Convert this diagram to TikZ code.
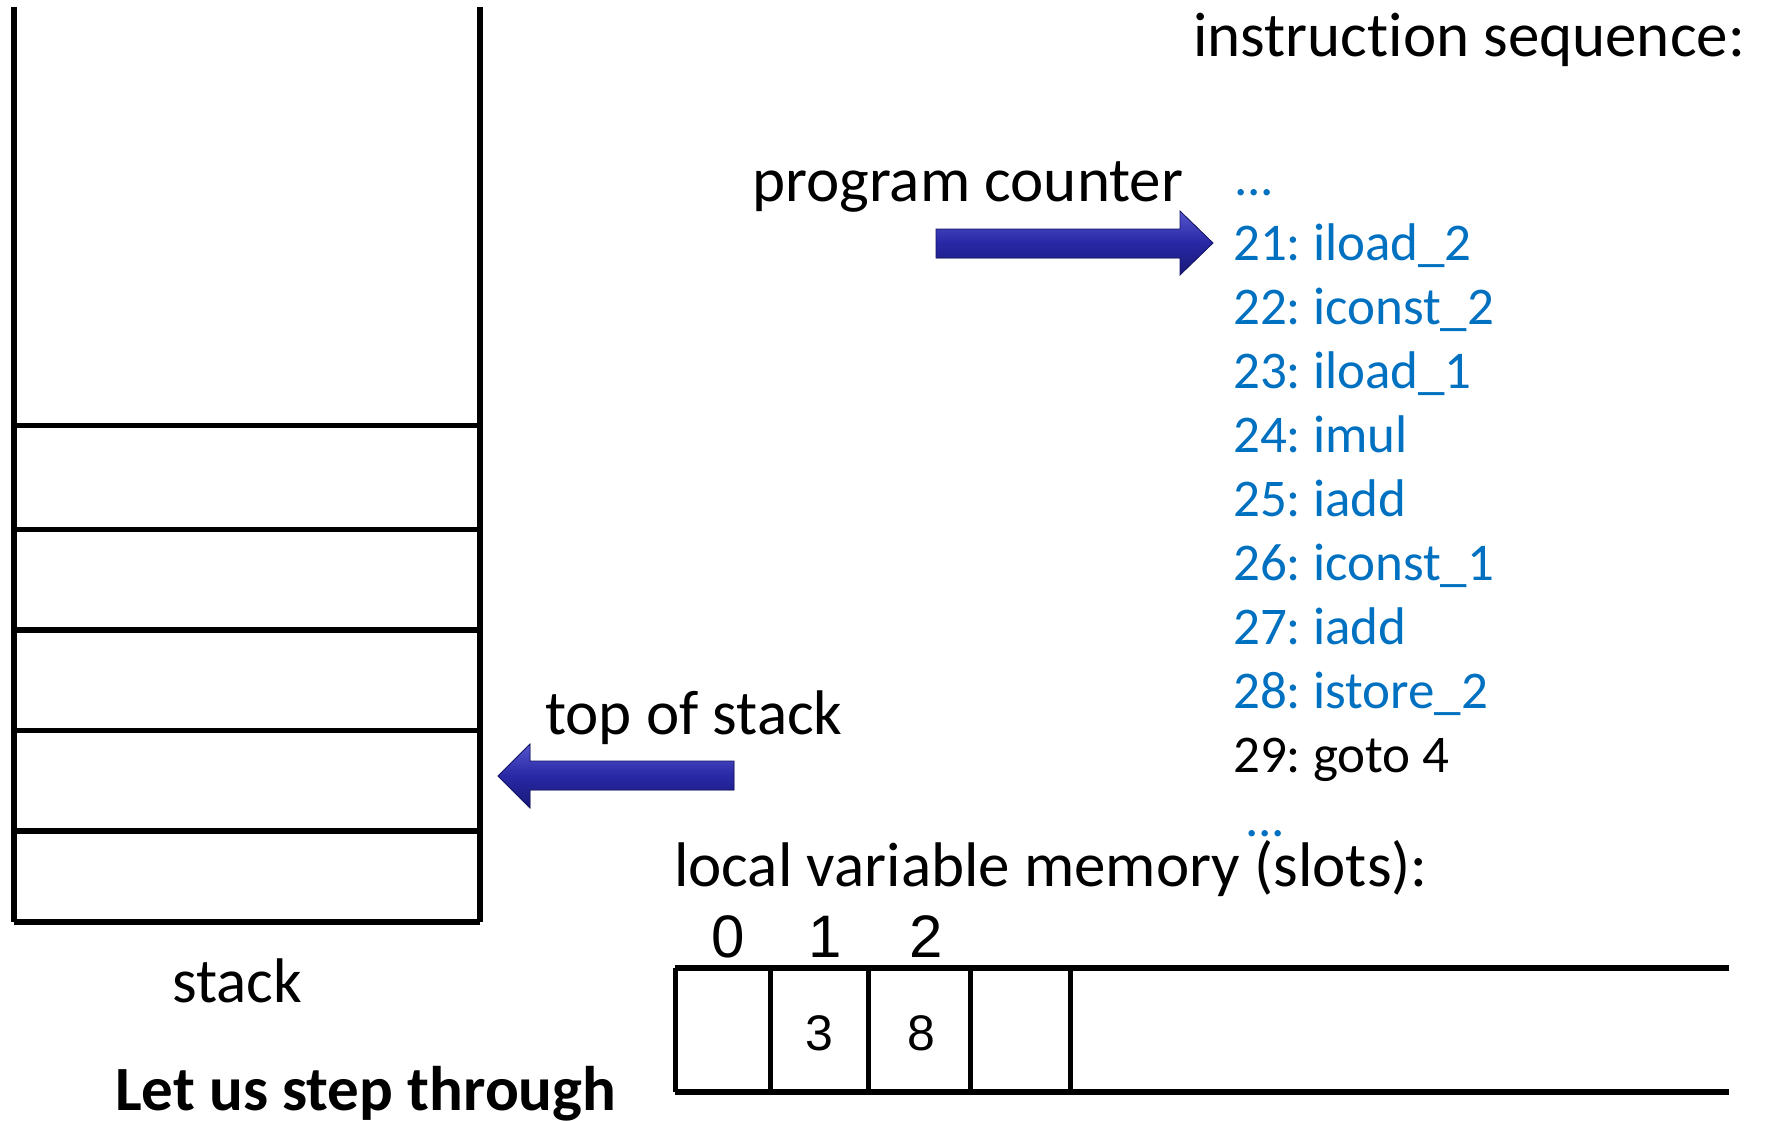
\documentclass[tikz,border=0pt]{standalone}
\usepackage{fontspec}
\setmainfont{Carlito}[Ligatures=NoCommon]
\newfontfamily\arialf{Liberation Sans}
\definecolor{instblue}{RGB}{0,112,192}
\definecolor{arrtop}{RGB}{85,85,205}
\definecolor{arrmid}{RGB}{40,40,165}
\definecolor{arrbot}{RGB}{25,25,120}
\definecolor{arredge}{RGB}{20,20,100}
\tikzset{
  lbl/.style={anchor=base west, inner sep=0pt, font=\fontsize{63}{75}\selectfont},
  instr/.style={anchor=base west, inner sep=0pt, font=\fontsize{53}{64}\selectfont, text=instblue},
  slotnum/.style={anchor=base, inner sep=0pt, font=\arialf\fontsize{60}{70}\selectfont},
  slotval/.style={anchor=base, inner sep=0pt, font=\arialf\fontsize{50}{60}\selectfont},
  wall/.style={line width=6pt},
  shelf/.style={line width=5.5pt},
  memedge/.style={line width=6pt},
  memdiv/.style={line width=5pt},
  blockarrow/.style={top color=arrtop, bottom color=arrbot, middle color=arrmid, draw=arredge, line width=0.8pt}
}
\frenchspacing
\begin{document}
\begin{tikzpicture}[x=1pt,y=-1pt]
\useasboundingbox (0,0) rectangle (1770,1121);
% stack
\draw[wall] (14,7) -- (14,922);
\draw[wall] (479.5,7) -- (479.5,922);
\foreach \yy in {425.7,529.4,629.9,730.3,830.8,922}
  \draw[shelf] (14,\yy) -- (479.5,\yy);
\node[lbl] (stacklbl) at (172,1002) {stack};
\node[lbl, font=\bfseries\fontsize{63}{75}\selectfont] (step) at (115,1110) {Let us step through};
% instruction sequence
\node[lbl] (isq) at (1193,56.5) {instruction sequence:};
\node[lbl] (pc) at (752,201) {program counter};
\node[instr] (i0) at (1234,196) {...};
\node[instr] (i21) at (1233,260) {21: iload\_2};
\node[instr] (i22) at (1233,324) {22: iconst\_2};
\node[instr] (i23) at (1233,388) {23: iload\_1};
\node[instr] (i24) at (1233,452) {24: imul};
\node[instr] (i25) at (1233,516) {25: iadd};
\node[instr] (i26) at (1233,580) {26: iconst\_1};
\node[instr] (i27) at (1233,644) {27: iadd};
\node[instr] (i28) at (1233,708) {28: istore\_2};
\node[instr, text=black] (i29) at (1233,772) {29: goto 4};
\node[instr] (i9) at (1245,836) {...};
% arrows
\coordinate (pcA) at (936,243);
\coordinate (pcB) at (1213,243);
\fill[blockarrow] (936,229) -- (1180,229) -- (1180,211) -- (pcB) -- (1180,275) -- (1180,258) -- (936,258) -- cycle;
\node[lbl] (tos) at (545,734) {top of stack};
\coordinate (tosA) at (734,776);
\coordinate (tosB) at (498,776);
\fill[blockarrow] (734,761) -- (530,761) -- (530,744) -- (tosB) -- (530,808) -- (530,790) -- (734,790) -- cycle;
% local variable memory
\node[lbl] (lvm) at (674,886) {local variable memory (slots):};
\node[slotnum] (s0) at (728,957) {0};
\node[slotnum] (s1) at (825,957) {1};
\node[slotnum] (s2) at (926,957) {2};
\draw[memedge] (675,968) -- (1729,968);
\draw[memedge] (675,1092) -- (1729,1092);
\foreach \xx in {675,770,868,970,1070}
  \draw[memdiv] (\xx,968) -- (\xx,1092);
\node[slotval] (v1) at (819,1050) {3};
\node[slotval] (v2) at (921,1050) {8};
\end{tikzpicture}
\end{document}
